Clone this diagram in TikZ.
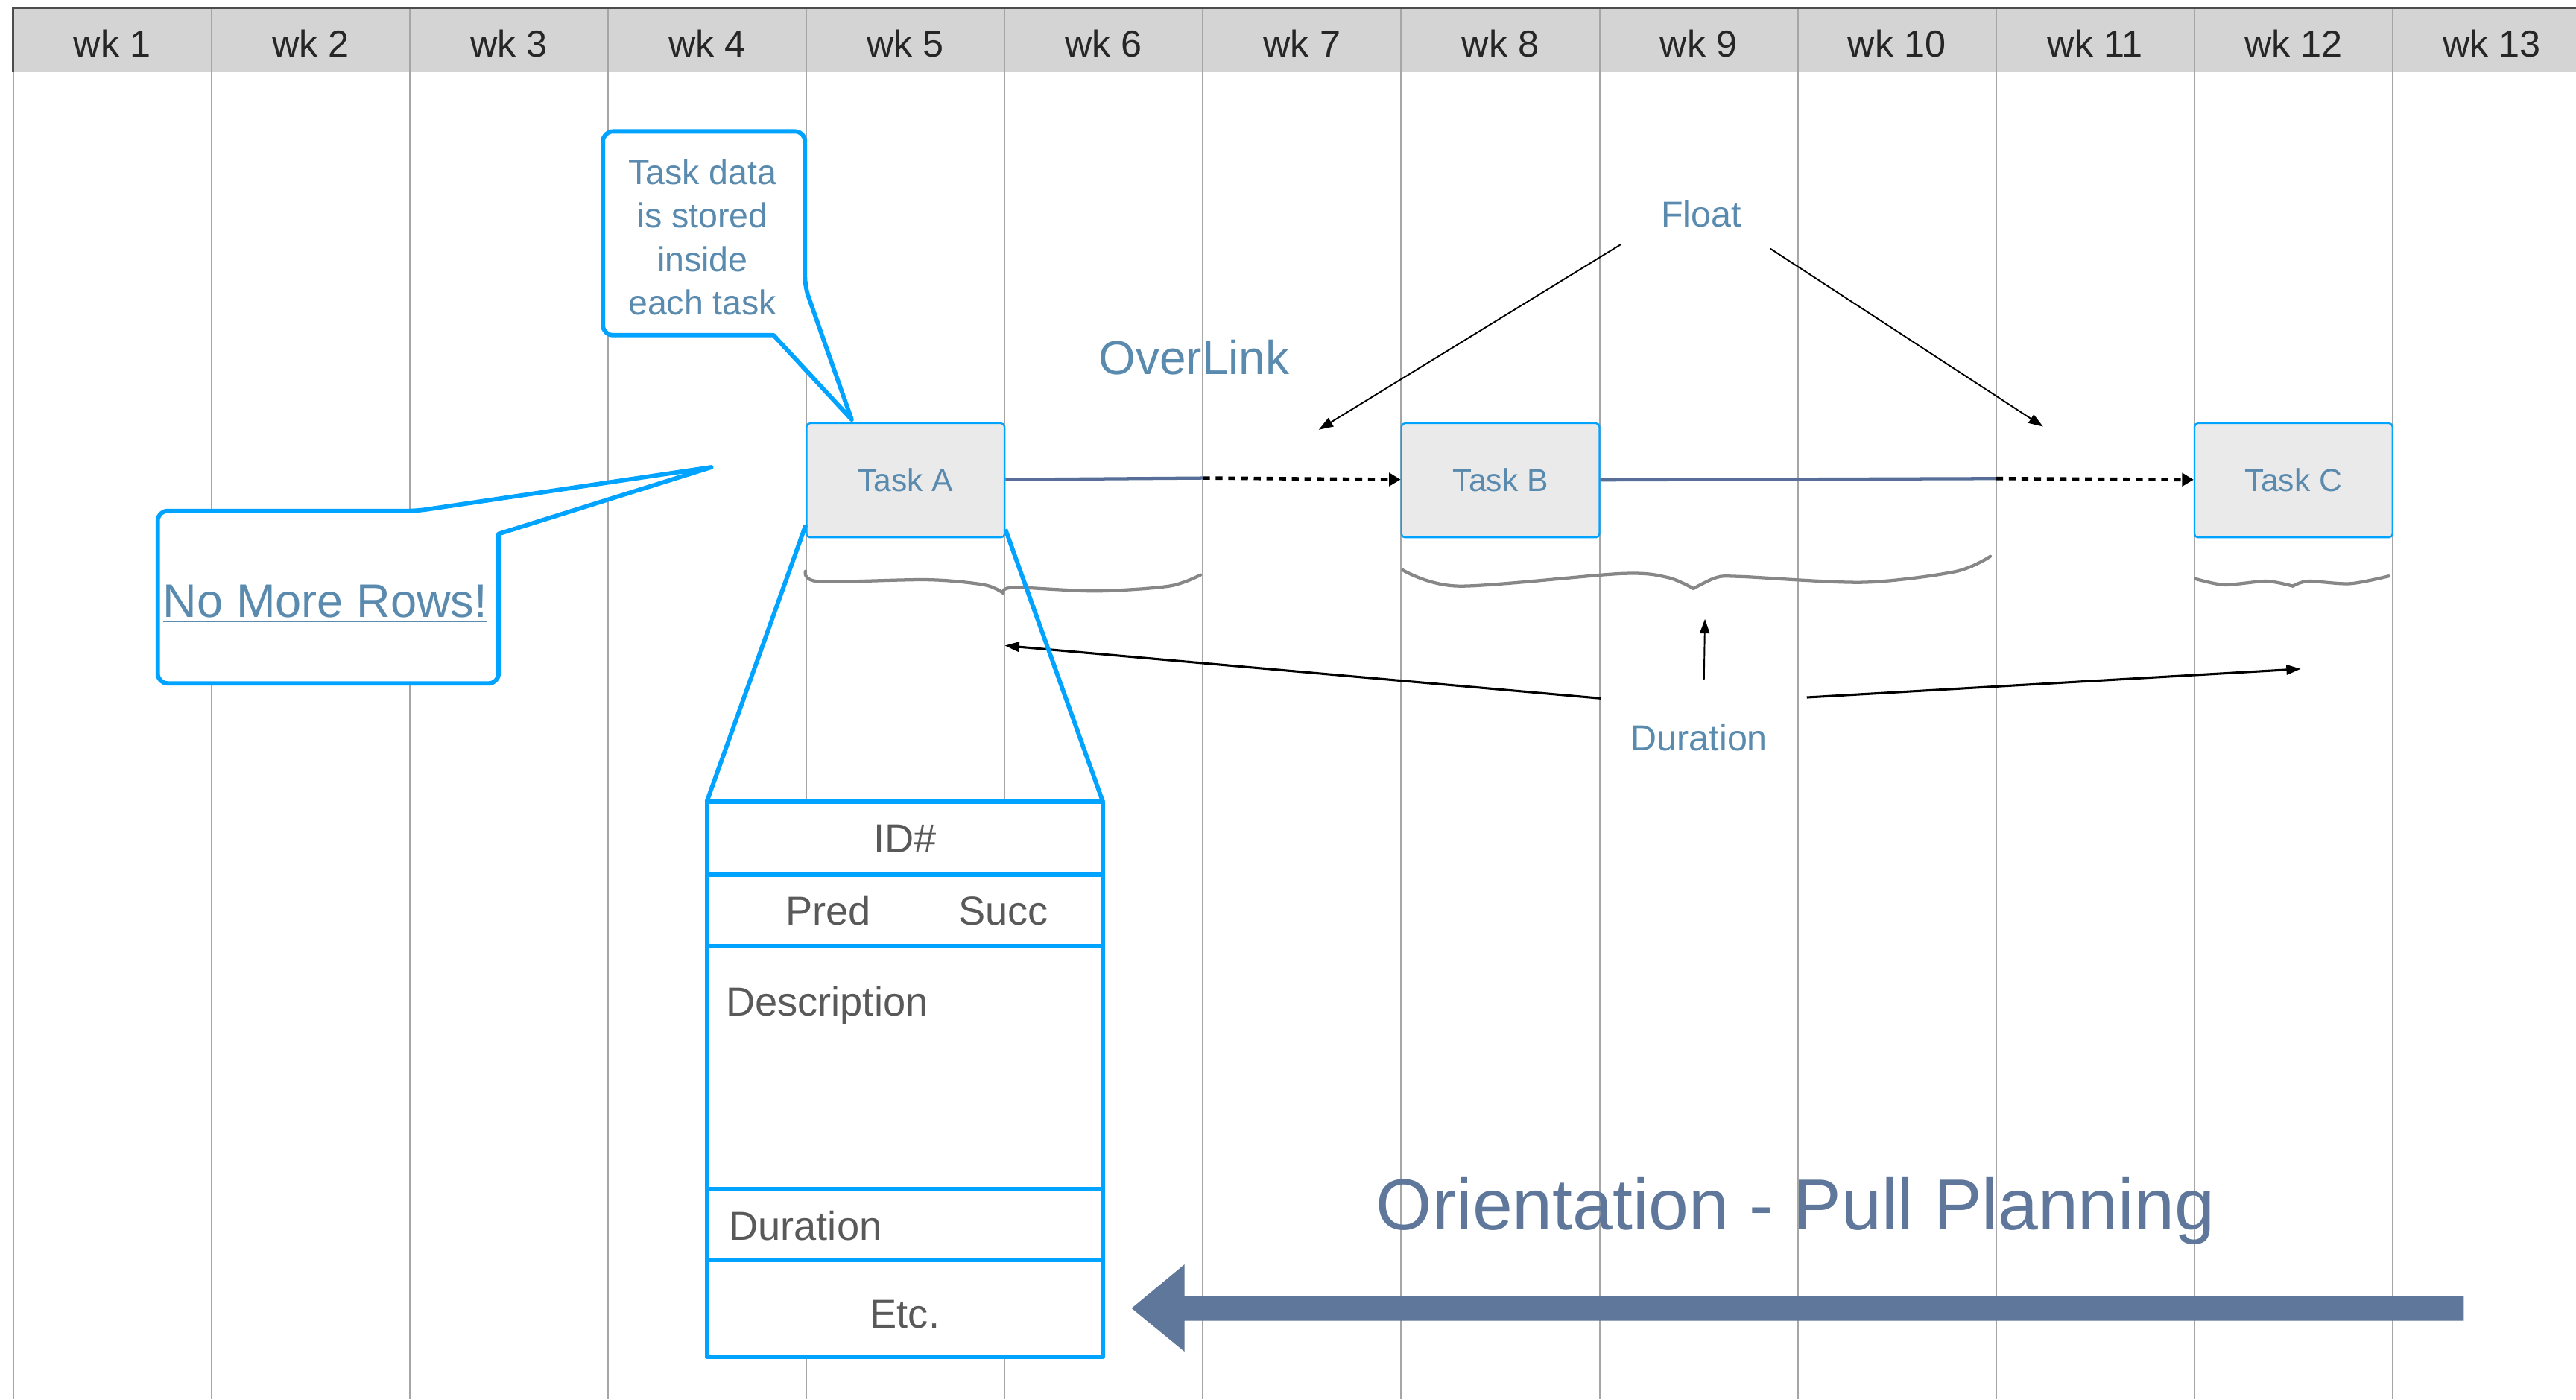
\documentclass[tikz,border=0pt]{standalone}
\usepackage{fontspec}
\setmainfont{Liberation Sans}
\usetikzlibrary{arrows.meta}

\definecolor{headgray}{HTML}{D4D4D4}
\definecolor{gridgray}{HTML}{A6A6A6}
\definecolor{cyanblue}{HTML}{00A3FF}
\definecolor{noteblue}{HTML}{5A8BAF}
\definecolor{linkslate}{HTML}{566E98}
\definecolor{pullslate}{HTML}{5F779B}
\definecolor{cardgray}{HTML}{595959}
\definecolor{taskfill}{HTML}{EAEAEA}
\definecolor{bracegray}{HTML}{878787}

\tikzset{
  gridline/.style={draw=gridgray, line width=0.5pt},
  wklabel/.style={anchor=base, inner sep=0pt, text=black!85, font=\fontsize{13}{16}\selectfont},
  taskbox/.style={draw=cyanblue, fill=taskfill, line width=0.6pt, rounded corners=1.2pt,
    minimum width=24.1mm, minimum height=13.9mm, inner sep=0pt, text=noteblue,
    font=\fontsize{11}{13}\selectfont},
  note/.style={anchor=base, inner sep=0pt, text=noteblue, font=\fontsize{12.5}{15}\selectfont},
  calltext/.style={align=center, inner sep=0pt, text=noteblue, font=\fontsize{12}{15.1}\selectfont},
  cardtext/.style={anchor=base, inner sep=0pt, text=cardgray, font=\fontsize{14}{17}\selectfont},
  cyanline/.style={draw=cyanblue, line width=1.5pt, line join=round},
  linkline/.style={draw=linkslate, line width=1.1pt},
  floatlink/.style={draw=black, line width=1.2pt, dash pattern=on 2.4pt off 2pt,
    -{Triangle[length=4pt,width=4.5pt]}},
  pointer/.style={draw=black, line width=0.5pt, -{Triangle[length=5pt,width=3.4pt]}},
  spanbrace/.style={draw=bracegray, line width=1.1pt, line cap=round, line join=round},
}

\begin{document}
\begin{tikzpicture}[x=0.2mm, y=-0.2mm]
\useasboundingbox (0,0) rectangle (1568,852);

% week header
\fill[headgray] (8,5) rectangle (1568,44);
\foreach \i in {0,...,12}
  \draw[gridline] ({8+\i*120.7},5) -- ({8+\i*120.7},852);
\draw[black!70, line width=0.6pt] (8,44) -- (8,5) -- (1568,5);
\foreach \i in {1,...,13}
  \node[wklabel] (wk\i) at ({8+(\i-0.5)*120.7},34.8) {wk \i};

% durations under the tasks (hand drawn braces)
\draw[spanbrace] plot[smooth] coordinates {(490.3,347.7) (498.5,354) (564.4,352.9) (599,356) (610.6,361)};
\draw[spanbrace] plot[smooth] coordinates {(610.6,361) (617,357.6) (667,359.8) (711.6,356.8) (730.7,350)};
\draw[spanbrace] plot[smooth] coordinates {(853.8,347) (888,356.8) (986.5,349.2) (1015,351.5) (1030.8,358.3)};
\draw[spanbrace] plot[smooth] coordinates {(1030.8,358.3) (1045,351.5) (1060,351) (1134,354.5) (1190,348) (1211.5,338.7)};
\draw[spanbrace] plot[smooth] coordinates {(1336.2,352.3) (1354,356) (1379.5,353.8) (1395.6,356.8)};
\draw[spanbrace] plot[smooth] coordinates {(1395.6,356.8) (1405,353.8) (1430.4,355.3) (1454,350.7)};

% tasks and links
\node[taskbox] (taskA) at (551.2,292.4) {Task A};
\node[taskbox] (taskB) at (913.3,292.4) {Task B};
\node[taskbox] (taskC) at (1396,292.4) {Task C};
\coordinate (slackA) at (732.2,291);
\coordinate (slackB) at (1215,291.3);
\draw[linkline] (taskA) -- (slackA);
\draw[floatlink] (slackA) -- (taskB);
\draw[linkline] (taskB) -- (slackB);
\draw[floatlink] (slackB) -- (taskC);

% labels
\node[note, font=\fontsize{16.5}{20}\selectfont] (overlink) at (726.8,228) {OverLink};
\node[note] (float) at (1035.5,138.2) {Float};
\coordinate (floatA) at (802.7,261.6);
\coordinate (floatB) at (1243.6,259.7);
\draw[pointer] ([shift={(-48.7,18.3)}]float.center) -- (floatA);
\draw[pointer] ([shift={(42.1,21)}]float.center) -- (floatB);

\node[note] (dur) at (1034.3,456.9) {Duration};
\coordinate (durA) at (611.6,393);
\coordinate (durB) at (1037.8,376.8);
\coordinate (durC) at (1400.5,407.2);
\draw[pointer, line width=0.8pt] ([shift={(-59.8,-23.9)}]dur.center) -- (durA);
\draw[pointer] ([shift={(2.9,-35.4)}]dur.center) -- (durB);
\draw[pointer, line width=0.8pt] ([shift={(65.5,-24.5)}]dur.center) -- (durC);

% callouts
\draw[cyanline, fill=white, rounded corners=1.2mm] (428,80) -- (490,80) -- (490,174.6)
  [sharp corners] -- (518.4,255.4) -- (470.8,204)
  [rounded corners=1.2mm] -- (367,204) -- (367,80) -- cycle;
\node[calltext] (stored) at (427.6,144.5) {Task data\\is stored\\inside\\each task};

\draw[cyanline, fill=white, rounded corners=1.2mm] (96,364) -- (96,311) -- (253.8,311)
  [sharp corners] -- (433,284.4) -- (303.5,325)
  [rounded corners=1.2mm] -- (303.5,416) -- (96,416) -- cycle;
\node[note, font=\fontsize{16.3}{20}\selectfont] (norows) at (198,375.8) {\underline{No More Rows!}};

% task card
\node[cyanline, fill=white, minimum width=48.2mm, minimum height=67.6mm, inner sep=0pt,
  outer sep=0pt] (card) at (550.75,656.9) {};
\foreach \y in {532.5,576.2,723.9,767}
  \draw[cyanline] (430.2,\y) -- (671.3,\y);
\draw[cyanline] ([yshift=1.6mm]taskA.south west) -- (card.north west);
\draw[cyanline] ([yshift=1.1mm]taskA.south east) -- (card.north east);
\node[cardtext] (idno) at (551,519) {ID\#};
\node[cardtext] (pred) at (504.3,563) {Pred};
\node[cardtext] (succ) at (610.8,563) {Succ};
\node[cardtext, anchor=base west] (desc) at (441.5,618.6) {Description};
\node[cardtext, anchor=base west] (durfield) at (443.4,755.1) {Duration};
\node[cardtext] (etc) at (550.8,808.3) {Etc.};

% pull planning arrow
\fill[pullslate] (1499.7,788.9) -- (721,788.9) -- (721,769.7) -- (688.8,796.4)
  -- (721,822.8) -- (721,804) -- (1499.7,804) -- cycle;
\node[anchor=base, inner sep=0pt, text=pullslate, font=\fontsize{25}{30}\selectfont]
  (pulltitle) at (1092.9,748.7) {Orientation - Pull Planning};
\end{tikzpicture}
\end{document}
